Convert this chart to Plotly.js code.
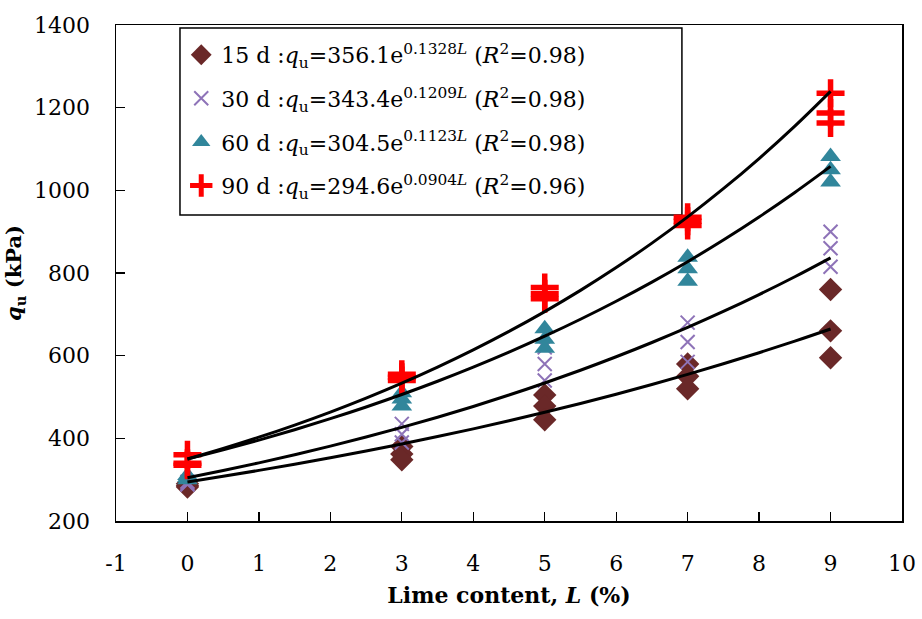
<!DOCTYPE html>
<html>
<head>
<meta charset="utf-8">
<script src="https://cdn.plot.ly/plotly-3.0.1.min.js"></script>
<style>html,body{margin:0;padding:0;background:#fff;}#chart{width:922px;height:619px;}</style>
</head>
<body>
<div id="chart"></div>
<script>
// Lime content (%) for each specimen
const limeContent = [0, 0, 0, 3, 3, 3, 5, 5, 5, 7, 7, 7, 9, 9, 9];
// Unconfined compressive strength q_u (kPa) by curing time
const qu15d = [290, 285, 282, 380, 362, 348, 505, 478, 445, 580, 550, 520, 760, 660, 595];
const qu30d = [295, 290, 288, 435, 410, 390, 620, 580, 540, 680, 633, 585, 900, 860, 815];
const qu60d = [300, 305, 310, 510, 495, 478, 665, 640, 618, 838, 810, 780, 1082, 1050, 1020];
const qu90d = [360, 340, 335, 555, 548, 540, 765, 750, 738, 935, 925, 915, 1235, 1187, 1163];
// Legend labels
const seriesNames = [
  "15 d :<i>q</i><sub>u</sub>=356.1e<sup>0.1328<i>L</i></sup> (<i>R</i><sup>2</sup>=0.98)",
  "30 d :<i>q</i><sub>u</sub>=343.4e<sup>0.1209<i>L</i></sup> (<i>R</i><sup>2</sup>=0.98)",
  "60 d :<i>q</i><sub>u</sub>=304.5e<sup>0.1123<i>L</i></sup> (<i>R</i><sup>2</sup>=0.98)",
  "90 d :<i>q</i><sub>u</sub>=294.6e<sup>0.0904<i>L</i></sup> (<i>R</i><sup>2</sup>=0.96)"
];
// Exponential trend-line coefficients as drawn (q = a*e^(b*L)), top curve to bottom
const trendA = [350, 350, 304.5, 294.6];
const trendB = [0.1405, 0.1229, 0.1123, 0.0904];
const trendL = [0, 0.5, 1, 1.5, 2, 2.5, 3, 3.5, 4, 4.5, 5, 5.5, 6, 6.5, 7, 7.5, 8, 8.5, 9];
// Axis ticks
const xTicks = [-1, 0, 1, 2, 3, 4, 5, 6, 7, 8, 9, 10];
const yTicks = [200, 400, 600, 800, 1000, 1200, 1400];

const serif = "DejaVu Serif";

const traces = [
  {x: limeContent, y: qu15d, name: seriesNames[0], legendgroup: "g1", mode: "markers", type: "scatter",
   marker: {symbol: "diamond", size: 18, color: "#6A2828"}},
  {x: limeContent, y: qu30d, name: seriesNames[1], legendgroup: "g2", mode: "markers", type: "scatter",
   marker: {symbol: "x-thin-open", size: 14, color: "#8E73B8", line: {width: 2, color: "#8E73B8"}}},
  {x: limeContent, y: qu60d, name: seriesNames[2], legendgroup: "g3", mode: "markers", type: "scatter",
   marker: {symbol: "triangle-up", size: 18, color: "#31869B"}},
  {x: limeContent, y: qu90d, name: seriesNames[3], legendgroup: "g4", mode: "markers", type: "scatter",
   marker: {symbol: "cross-thin-open", size: 20, color: "#FF0000", line: {width: 5.5, color: "#FF0000"}}}
];
for (let i = 0; i < trendA.length; i++) {
  traces.push({
    x: trendL, y: trendL.map(L => trendA[i] * Math.exp(trendB[i] * L)),
    mode: "lines", type: "scatter", showlegend: false, hoverinfo: "skip",
    line: {color: "#000", width: 3, shape: "spline"}
  });
}

const layout = {
  width: 922, height: 619,
  margin: {l: 116, r: 20, t: 25, b: 98},
  paper_bgcolor: "#fff", plot_bgcolor: "#fff",
  font: {family: serif, color: "#000"},
  showlegend: true,
  xaxis: {
    range: [-1, 10], tickvals: xTicks, ticktext: xTicks.map(String),
    showline: true, linecolor: "#000", linewidth: 1.5, mirror: true,
    ticks: "inside", ticklen: 9, tickwidth: 1.2, tickcolor: "#000",
    showgrid: false, zeroline: false,
    tickfont: {family: serif, size: 22, color: "#000"},
    ticklabelstandoff: 22,
    title: {text: "<b>Lime content, <i>L</i> (%)</b>", font: {family: serif, size: 22, color: "#000"}, standoff: 12}
  },
  yaxis: {
    range: [200, 1400], tickvals: yTicks, ticktext: yTicks.map(String),
    showline: true, linecolor: "#000", linewidth: 1.5, mirror: true,
    ticks: "inside", ticklen: 9, tickwidth: 1.2, tickcolor: "#000",
    showgrid: false, zeroline: false,
    tickfont: {family: serif, size: 22, color: "#000"},
    ticklabelstandoff: 20,
    title: {text: "<b><i>q</i><sub>u</sub> (kPa)</b>", font: {family: serif, size: 21, color: "#000"}, standoff: 6}
  },
  shapes: [{
    type: "rect", xref: "paper", yref: "paper",
    x0: 0.0814, x1: 0.720, y0: 0.617, y1: 0.994,
    line: {color: "#000", width: 1.5}, fillcolor: "#fff", layer: "below"
  }],
  legend: {
    x: 0.083, y: 0.982, xanchor: "left", yanchor: "top",
    bgcolor: "rgba(0,0,0,0)", borderwidth: 0,
    font: {family: serif, size: 22, color: "#000"},
    itemwidth: 30, tracegroupgap: 12
  }
};

Plotly.newPlot("chart", traces, layout, {displayModeBar: false, staticPlot: true});
</script>
</body>
</html>
